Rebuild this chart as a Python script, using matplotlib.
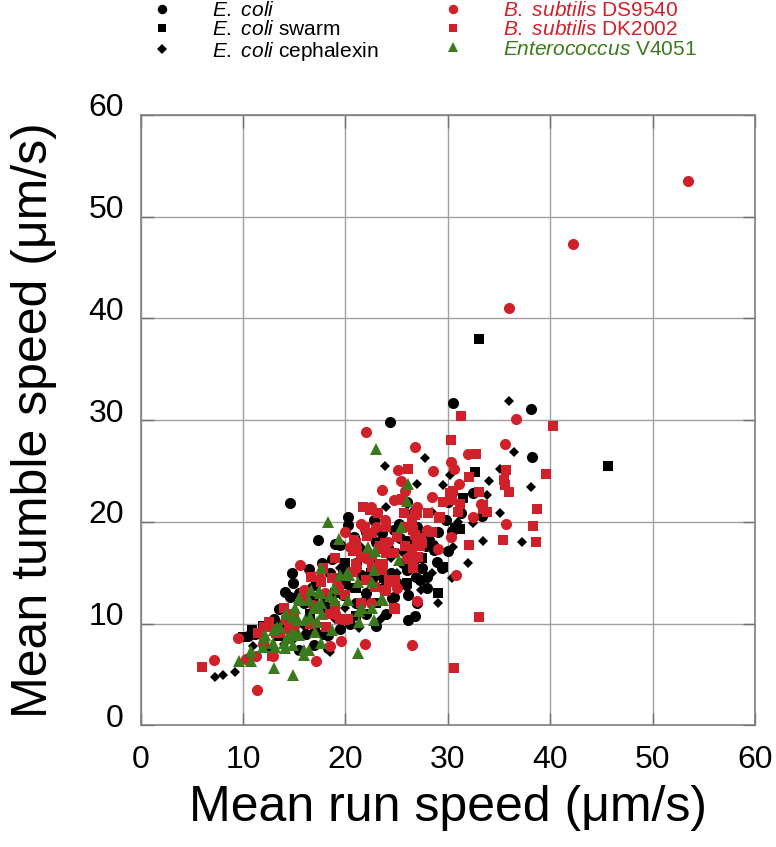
import matplotlib
matplotlib.use('Agg')
import matplotlib.pyplot as plt
import matplotlib.transforms as mtransforms

plt.rcParams['font.family'] = ['Liberation Sans', 'DejaVu Sans']
plt.rcParams['mathtext.fontset'] = 'custom'
plt.rcParams['mathtext.it'] = 'Liberation Sans:italic'
plt.rcParams['mathtext.rm'] = 'Liberation Sans'

# ---------------- data (mean run speed, mean tumble speed), um/s ----------------
ecoli_x = [14.6, 24.4, 30.5, 38.1, 38.2, 20.3, 20.3, 17.3, 19.0, 19.5, 17.7, 18.7, 16.4, 14.8, 14.9,
           14.1, 14.6, 13.5, 15.5, 16.9, 18.3, 18.3, 26.1, 31.3, 30.4, 30.0, 28.9, 29.4, 23.6, 24.7,
           25.3, 26.0, 28.2, 28.6, 28.7, 27.9, 26.0, 26.6, 25.6, 26.0, 26.9, 27.3, 26.1, 24.7, 23.7,
           24.6, 23.6, 28.1, 13.0, 12.3, 16.0, 19.0, 21.0, 22.0, 24.0, 20.0, 21.0, 22.0, 23.0, 19.0,
           18.0, 17.0, 16.2, 22.0, 25.0, 27.0, 28.0, 29.0, 33.3, 30.0, 26.0, 20.8, 21.8, 18.5, 17.0,
           15.5, 20.5, 23.0, 24.5, 27.5, 25.2, 22.8, 16.8, 19.8, 21.5, 22.5, 24.2, 27.0, 29.8, 19.5,
           17.8, 14.0, 11.2, 10.5, 32.5, 28.0, 26.8]
ecoli_y = [21.9, 29.8, 31.7, 31.1, 26.4, 20.5, 19.7, 18.2, 17.8, 17.7, 16.0, 16.4, 15.4, 15.0, 14.0,
           13.1, 12.6, 11.4, 7.4, 7.9, 8.9, 7.6, 10.4, 20.9, 19.1, 17.1, 16.1, 15.5, 19.1, 19.2,
           18.4, 18.1, 18.2, 17.7, 17.2, 17.6, 17.1, 16.1, 16.0, 15.3, 14.6, 14.3, 12.8, 12.6, 13.5,
           12.5, 18.9, 18.9, 10.5, 9.8, 12.0, 11.0, 12.0, 11.0, 11.0, 14.0, 16.0, 19.0, 18.0, 14.5,
           12.5, 10.0, 9.0, 13.0, 14.0, 12.0, 13.5, 19.0, 20.6, 22.0, 22.0, 18.5, 17.0, 15.0, 13.8,
           13.0, 10.0, 9.8, 15.0, 15.5, 19.8, 20.2, 12.5, 12.8, 14.8, 16.2, 17.4, 19.5, 20.2, 9.5,
           9.0, 9.8, 9.0, 8.8, 22.8, 14.6, 10.8]

swarm_x = [33.0, 45.6, 32.7, 31.5, 30.7, 31.2, 29.5, 10.0, 10.85, 19.0, 21.0, 22.5, 24.0, 25.0, 20.0,
           18.0, 23.0, 26.0, 27.5, 29.0, 17.0, 15.0, 13.5, 21.0, 28.0, 16.5, 14.5, 12.0, 19.8, 23.8]
swarm_y = [38.0, 25.5, 24.9, 22.4, 19.4, 19.3, 15.6, 8.7, 9.4, 13.0, 13.5, 15.0, 17.0, 18.8, 16.0,
           11.5, 12.0, 14.0, 16.5, 13.0, 9.5, 9.2, 8.8, 10.8, 18.6, 11.0, 10.0, 9.8, 15.0, 14.5]

ceph_x = [7.3, 8.1, 9.2, 36.0, 36.5, 27.8, 23.9, 35.1, 38.1, 27.0, 29.5, 30.2, 33.8, 35.1, 32.5,
          37.2, 33.4, 30.4, 27.3, 27.4, 21.3, 18.2, 18.5, 16.0, 14.0, 12.5, 20.0, 22.0, 23.0, 24.5,
          25.0, 26.0, 27.2, 28.5, 31.0, 20.5, 22.5, 19.5, 24.0, 32.0, 29.0, 34.0, 11.0, 15.0, 17.5,
          21.5, 25.5, 28.5, 30.5, 26.5, 19.0, 16.5, 13.5, 23.5]
ceph_y = [4.8, 5.0, 5.3, 31.9, 26.9, 26.3, 25.5, 25.2, 23.4, 23.7, 23.6, 24.6, 22.6, 20.9, 19.9,
          18.0, 18.1, 14.5, 14.3, 13.3, 9.6, 8.7, 7.2, 9.8, 8.0, 7.5, 11.5, 12.5, 14.5, 16.5,
          15.0, 13.5, 19.0, 21.0, 20.0, 13.5, 18.5, 15.5, 21.5, 16.0, 12.0, 24.0, 7.8, 8.5, 11.5,
          17.5, 17.0, 15.0, 17.5, 21.0, 10.5, 13.5, 10.0, 10.5]

ds_x = [53.5, 42.2, 36.0, 36.7, 35.6, 22.0, 26.8, 25.1, 28.6, 25.4, 23.6, 24.7, 25.3, 23.9, 32.0,
        30.3, 30.6, 31.1, 32.5, 35.7, 30.3, 29.0, 30.8, 26.5, 11.4, 7.2, 9.5, 10.3, 11.3, 12.9,
        17.1, 18.5, 19.6, 21.9, 27.0, 15.6, 16.0, 25.8, 18.0, 21.0, 22.0, 19.0, 23.0, 20.5, 27.0,
        28.5, 22.5, 16.8, 13.0, 14.5, 33.2, 20.0, 24.2, 26.0, 17.5, 12.0, 15.0, 22.5, 25.0, 28.0,
        21.5, 19.2]
ds_y = [53.5, 47.3, 41.0, 30.1, 27.7, 28.8, 27.4, 25.1, 25.0, 24.0, 23.1, 22.2, 22.3, 20.2, 26.7,
        25.9, 25.2, 23.7, 20.5, 19.8, 18.5, 17.3, 14.8, 7.9, 3.5, 6.4, 8.6, 6.5, 6.8, 6.8,
        6.3, 7.8, 8.3, 8.0, 12.2, 15.8, 13.3, 23.0, 13.0, 15.5, 16.5, 11.0, 19.5, 17.5, 21.5,
        22.5, 21.5, 11.8, 9.5, 10.8, 21.8, 19.0, 18.0, 16.5, 14.5, 8.0, 9.8, 12.0, 13.5, 19.2,
        19.8, 13.8]

dk_x = [40.3, 31.3, 30.3, 32.8, 26.1, 32.1, 35.7, 35.5, 35.6, 36.0, 39.6, 33.0, 30.5, 29.5, 30.4,
        31.2, 38.7, 33.4, 33.8, 38.3, 35.4, 38.6, 32.1, 33.0, 30.6, 6.0, 21.7, 22.4, 23.2, 25.7,
        26.8, 28.1, 29.2, 26.6, 26.5, 27.0, 29.1, 25.5, 26.5, 27.4, 27.3, 26.5, 26.6, 26.6, 27.1,
        24.0, 23.7, 24.3, 24.0, 24.7, 24.8, 21.9, 22.1, 20.8, 21.1, 22.6, 23.4, 23.4, 24.7, 25.8,
        11.5, 12.5, 12.1, 12.8, 13.6, 12.1, 19.5, 20.3, 24.8, 30.2, 33.4, 16.6, 17.6, 18.7, 19.4,
        21.0, 22.3, 23.9, 26.2, 27.0, 26.8, 24.6, 23.9, 20.0, 18.1, 13.2, 14.2, 22.6, 21.0, 20.7,
        21.5, 23.3, 25.9, 27.5, 22.6, 23.6, 20.7, 22.0, 22.9, 19.0, 15.0, 16.0, 18.5, 14.5, 16.5,
        21.5, 20.0, 19.0, 17.8, 14.0, 28.5, 25.0, 24.0, 31.0]
dk_y = [29.4, 30.4, 28.1, 26.7, 25.2, 24.4, 25.1, 24.1, 23.6, 22.9, 24.7, 22.9, 23.0, 22.0, 22.2,
        21.8, 21.3, 21.3, 21.0, 19.6, 18.2, 18.0, 17.7, 10.7, 5.6, 5.7, 21.5, 21.2, 20.9, 20.9,
        20.7, 20.9, 20.5, 19.2, 20.2, 20.9, 20.4, 22.3, 19.7, 18.4, 17.6, 17.3, 15.8, 15.5, 16.6,
        16.9, 15.9, 14.3, 13.3, 11.5, 14.3, 19.5, 18.6, 18.2, 17.1, 16.8, 17.6, 15.9, 16.9, 17.6,
        9.1, 10.2, 8.4, 6.8, 9.1, 9.7, 10.5, 10.5, 11.4, 22.8, 21.7, 14.6, 14.1, 14.5, 13.3,
        15.9, 16.4, 17.9, 16.4, 17.9, 18.7, 14.1, 13.2, 10.4, 9.7, 9.1, 10.4, 18.9, 17.9, 17.1,
        16.6, 17.3, 19.5, 17.9, 15.6, 15.3, 15.1, 14.3, 13.6, 11.7, 11.0, 12.5, 11.0, 9.5, 10.0,
        12.0, 12.8, 16.5, 15.5, 11.5, 19.0, 18.5, 19.5, 21.0]

ent_x = [23.0, 26.1, 26.0, 25.4, 25.2, 23.7, 18.3, 19.4, 22.2, 22.9, 22.8, 22.6, 21.2, 20.2, 19.5,
         17.6, 16.6, 17.4, 18.9, 20.3, 19.0, 17.6, 16.9, 15.5, 15.1, 14.2, 13.3, 12.2, 12.0, 12.9,
         14.0, 14.8, 15.5, 16.1, 17.6, 18.7, 21.3, 21.3, 22.6, 22.8, 9.6, 10.75, 10.75, 13.0, 14.9,
         16.0, 16.4, 21.2, 16.0, 14.9, 13.1, 14.1, 13.0, 15.2, 17.0, 14.3, 15.6, 16.4, 17.3, 17.7,
         17.2, 16.5, 15.4, 14.9, 18.5, 17.5, 20.4, 21.6, 23.5, 12.1, 13.6]
ent_y = [27.2, 23.7, 22.1, 19.5, 16.3, 12.3, 20.0, 18.3, 17.5, 17.1, 15.3, 14.1, 14.1, 15.0, 14.8,
         15.5, 13.3, 13.2, 13.5, 12.3, 12.3, 12.0, 11.5, 12.5, 11.5, 11.0, 9.7, 8.9, 7.7, 8.1,
         8.1, 9.1, 8.9, 10.4, 8.1, 9.4, 11.2, 10.2, 11.5, 10.4, 6.3, 6.3, 7.3, 5.6, 5.0,
         6.9, 7.4, 7.1, 7.4, 7.9, 7.7, 7.6, 9.4, 8.9, 9.2, 8.6, 12.3, 12.3, 11.7, 11.0,
         10.2, 10.7, 10.4, 10.7, 12.7, 13.0, 14.8, 11.5, 12.3, 8.7, 9.7]

ticks = [0, 10, 20, 30, 40, 50, 60]

BLACK = '#000000'
RED = '#d0202a'
GREEN = '#3a7a1c'

series = [
    (ecoli_x, ecoli_y, 'o', BLACK, 8.0, r'$\mathit{E.\ coli}$'),
    (swarm_x, swarm_y, 's', BLACK, 7.2, r'$\mathit{E.\ coli}$ swarm'),
    (ceph_x, ceph_y, 'D', BLACK, 5.6, r'$\mathit{E.\ coli}$ cephalexin'),
    (ds_x, ds_y, 'o', RED, 8.0, r'$\mathit{B.\ subtilis}$ DS9540'),
    (dk_x, dk_y, 's', RED, 7.2, r'$\mathit{B.\ subtilis}$ DK2002'),
    (ent_x, ent_y, '^', GREEN, 8.6, r'$\mathit{Enterococcus}$ V4051'),
]

fig = plt.figure(figsize=(7.76, 8.47), dpi=100)
ax = fig.add_axes([0.1811, 0.1435, 0.7919, 0.7208])

handles = []
for xs, ys, mk, col, ms, lab in series:
    h, = ax.plot(xs, ys, linestyle='none', marker=mk, color=col, markersize=ms,
                 markeredgewidth=0, label=lab, zorder=3)
    handles.append(h)

ax.set_xlim(0, 60)
ax.set_ylim(0, 60)
ax.set_xticks(ticks)
ax.set_yticks(ticks)
ax.grid(True, color='#a0a0a0', linewidth=1.0, zorder=0)
ax.set_axisbelow(True)
for sp in ax.spines.values():
    sp.set_color('#808080')
    sp.set_linewidth(1.2)
ax.tick_params(direction='in', length=9, width=1, color='#707070', top=True, right=True,
               labelsize=23, pad=14)
ax.tick_params(axis='y', pad=12)
off = mtransforms.ScaledTranslation(0, 0.10, fig.dpi_scale_trans)
for lbl in ax.get_yticklabels():
    lbl.set_transform(lbl.get_transform() + off)

ax.set_xlabel('Mean run speed (\u03bcm/s)', fontsize=36)
ax.set_ylabel('Mean tumble speed (\u03bcm/s)', fontsize=36)
ax.xaxis.set_label_coords(0.5, -0.097)
ax.yaxis.set_label_coords(-0.136, 0.5)

leg = fig.legend(handles=handles, ncol=2, loc='upper left', bbox_to_anchor=(0.188, 0.999),
                 frameon=False, fontsize=15, handlelength=1.5, handletextpad=1.68,
                 columnspacing=2.8, labelspacing=0.02, borderaxespad=0, borderpad=0,
                 markerscale=0.85)
for txt, (_, _, _, col, _, _) in zip(leg.get_texts(), series):
    txt.set_color(col)

fig.savefig('out.png', dpi=100)
